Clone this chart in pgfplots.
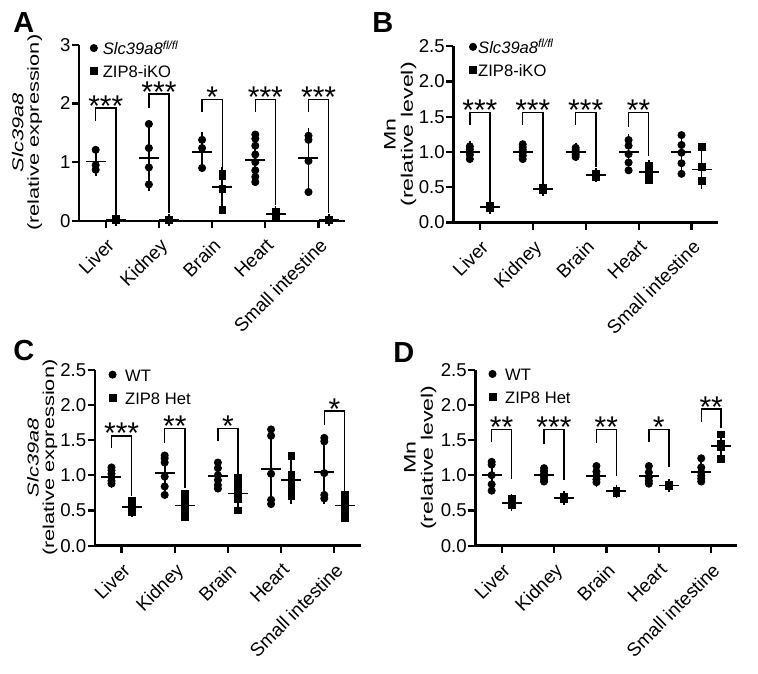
\documentclass[border=0pt]{standalone}
\usepackage{fontspec}
\setmainfont{Liberation Sans}
\usepackage{graphicx}
\usepackage{pgfplots}
\pgfplotsset{compat=1.18}

\pgfplotsset{
  panel/.style={
    scale only axis, height=88pt,
    xmin=-0.5, xmax=4.5, ymin=0,
    axis x line*=bottom, axis y line*=left,
    axis line style={line width=1.2pt, -},
    tick style={line width=1.1pt, black},
    major tick length=3.6pt, tick align=outside,
    xtick={0,1,2,3,4},
    xticklabels={Liver,Kidney,Brain,Heart,Small intestine},
    xticklabel style={rotate=45, anchor=north east, font=\fontsize{9.4}{10}\selectfont, inner sep=3.1pt},
    yticklabel style={font=\fontsize{9.3}{10}\selectfont, inner xsep=0.6pt},
    clip=false,
    legend cell align=left,
    legend style={draw=none, fill=none, inner sep=0pt, anchor=north west,
      font=\fontsize{8.3}{9}\selectfont, row sep=3.5pt,
      nodes={inner xsep=0pt, inner ysep=0pt, text height=6.5pt, text depth=1.5pt}},
    legend image code/.code={\draw[#1] plot coordinates {(0pt,0.8pt)};},
    ylabel style={anchor=south, align=center, inner sep=0pt},
  },
  lwt/.style={only marks, mark=*, mark size=1.8pt, black},
  lko/.style={only marks, mark=square*, mark size=1.7pt, black},
  wt/.style={only marks, mark=*, mark size=1.8pt, black, forget plot},
  ko/.style={only marks, mark=square*, mark size=1.7pt, black, forget plot},
  msd/.style={black, forget plot, only marks, mark=-, mark size=5pt,
     mark options={line width=0.9pt},
     error bars/.cd, y dir=both, y explicit, error mark=-,
     error mark options={line width=0.85pt, mark size=2.9pt},
     error bar style={line width=0.85pt}},
  brk/.style={black, line width=0.75pt, sharp plot, no marks, forget plot},
}
\tikzset{star/.style={font=\fontsize{15}{15}\selectfont, anchor=base, inner sep=0pt, yshift=-4.1pt}}

% #1 xL, #2 xR, #3 xc, #4 left leg bottom, #5 top, #6 right leg bottom, #7 stars
\newcommand{\brk}[7]{\addplot[brk] coordinates {(#1,#4) (#1,#5) (#2,#5) (#2,#6)};
  \node[star] at (axis cs:#3,#5) {#7};}

\begin{document}
\begin{tikzpicture}
\useasboundingbox (0,0) rectangle (379pt,-336.5pt);

% ---------------- Panel A ----------------
\begin{axis}[panel, width=133pt, at={(39.6pt,-110.4pt)}, anchor=south west,
  ymax=3, ytick={0,1,2,3}, yticklabels={0,1,2,3},
  ylabel={\scalebox{1.38}[1]{\itshape Slc39a8}\\\scalebox{1.38}[1]{(relative expression)}},
  ylabel style={at={(axis description cs:-0.138,0.5)}, font=\fontsize{7.9}{7.7}\selectfont},
  legend style={at={(axis description cs:0.04,1.02)}, /tikz/every odd column/.append style={column sep=2.7pt}}]
\addlegendimage{lwt}\addlegendentry{\textit{Slc39a8}\textsuperscript{\textit{fl/fl}}}
\addlegendimage{lko}\addlegendentry{ZIP8-iKO}
\addplot[wt] coordinates {(-0.19,1.21)(-0.19,0.95)(-0.19,0.87)};
\addplot[ko] coordinates {(0.19,0.03)(0.19,0.02)(0.19,0.01)};
\addplot[wt] coordinates {(0.81,1.65)(0.81,1.24)(0.81,0.91)(0.81,0.62)};
\addplot[ko] coordinates {(1.19,0.02)(1.19,0.01)(1.19,0.02)(1.19,0.01)};
\addplot[wt] coordinates {(1.81,1.38)(1.81,1.24)(1.81,0.90)};
\addplot[ko] coordinates {(2.19,0.80)(2.19,0.76)(2.19,0.55)(2.19,0.19)};
\addplot[wt] coordinates {(2.81,1.47)(2.81,1.40)(2.81,1.28)(2.81,1.13)(2.81,1.00)(2.81,0.86)(2.81,0.75)(2.81,0.66)};
\addplot[ko] coordinates {(3.19,0.15)(3.19,0.12)(3.19,0.10)(3.19,0.08)};
\addplot[wt] coordinates {(3.81,1.45)(3.81,1.38)(3.81,1.02)(3.81,0.49)};
\addplot[ko] coordinates {(4.19,0.02)(4.19,0.01)(4.19,0.02)};
\addplot[msd] coordinates {(-0.19,1.01)+-(0,0.14) (0.19,0.02)+-(0,0.01)
  (0.81,1.07)+-(0,0.46) (1.19,0.015)+-(0,0.005) (1.81,1.17)+-(0,0.24) (2.19,0.58)+-(0,0.24)
  (2.81,1.03)+-(0,0.30) (3.19,0.11)+-(0,0.04) (3.81,1.07)+-(0,0.42) (4.19,0.015)+-(0,0.005)};
\brk{-0.19}{0.19}{0}{1.70}{1.92}{0.14}{***}
\brk{0.81}{1.19}{1}{1.92}{2.16}{0.14}{***}
\brk{1.81}{2.19}{2}{1.85}{2.07}{0.86}{*}
\brk{2.81}{3.19}{3}{1.85}{2.07}{0.27}{***}
\brk{3.81}{4.19}{4}{1.85}{2.07}{0.14}{***}
\end{axis}

% ---------------- Panel B ----------------
\begin{axis}[panel, width=132.3pt, at={(226.7pt,-111.2pt)}, anchor=south west,
  ymax=2.5, ytick={0,0.5,1,1.5,2,2.5}, yticklabels={0.0,0.5,1.0,1.5,2.0,2.5},
  ylabel={\scalebox{1.4}[1]{Mn}\\\scalebox{1.4}[1]{(relative level)}},
  ylabel style={at={(axis description cs:-0.139,0.5)}, font=\fontsize{8.3}{8.6}\selectfont},
  legend style={at={(axis description cs:0.059,1.036)}, /tikz/every odd column/.append style={column sep=0.8pt}}]
\addlegendimage{lwt}\addlegendentry{\textit{Slc39a8}\textsuperscript{\textit{fl/fl}}}
\addlegendimage{lko}\addlegendentry{ZIP8-iKO}
\addplot[wt] coordinates {(-0.19,1.08)(-0.19,1.04)(-0.19,1.00)(-0.19,0.96)(-0.19,0.90)};
\addplot[ko] coordinates {(0.19,0.24)(0.19,0.23)(0.19,0.22)(0.19,0.20)};
\addplot[wt] coordinates {(0.81,1.11)(0.81,1.07)(0.81,1.03)(0.81,0.99)(0.81,0.95)(0.81,0.90)};
\addplot[ko] coordinates {(1.19,0.49)(1.19,0.48)(1.19,0.47)(1.19,0.46)};
\addplot[wt] coordinates {(1.81,1.06)(1.81,1.03)(1.81,0.99)(1.81,0.96)(1.81,0.93)};
\addplot[ko] coordinates {(2.19,0.69)(2.19,0.68)(2.19,0.67)(2.19,0.65)};
\addplot[wt] coordinates {(2.81,1.17)(2.81,1.09)(2.81,0.97)(2.81,0.85)(2.81,0.74)};
\addplot[ko] coordinates {(3.19,0.80)(3.19,0.75)(3.19,0.70)(3.19,0.64)(3.19,0.60)};
\addplot[wt] coordinates {(3.81,1.24)(3.81,1.10)(3.81,0.99)(3.81,0.84)(3.81,0.69)};
\addplot[ko] coordinates {(4.19,1.07)(4.19,0.79)(4.19,0.59)};
\addplot[msd] coordinates {(-0.19,1.00)+-(0,0.07) (0.19,0.22)+-(0,0.02)
  (0.81,1.00)+-(0,0.07) (1.19,0.475)+-(0,0.015) (1.81,1.00)+-(0,0.05) (2.19,0.67)+-(0,0.02)
  (2.81,1.00)+-(0,0.17) (3.19,0.72)+-(0,0.08) (3.81,1.00)+-(0,0.20) (4.19,0.75)+-(0,0.19)};
\brk{-0.19}{0.19}{0}{1.38}{1.56}{0.32}{***}
\brk{0.81}{1.19}{1}{1.38}{1.56}{0.58}{***}
\brk{1.81}{2.19}{2}{1.38}{1.56}{0.78}{***}
\brk{2.81}{3.19}{3}{1.36}{1.56}{0.94}{**}
\end{axis}

% ---------------- Panel C ----------------
\begin{axis}[panel, width=133pt, at={(47.5pt,-272.8pt)}, anchor=south west,
  ymax=2.5, ytick={0,0.5,1,1.5,2,2.5}, yticklabels={0.0,0.5,1.0,1.5,2.0,2.5},
  ylabel={\scalebox{1.38}[1]{\itshape Slc39a8}\\\scalebox{1.38}[1]{(relative expression)}},
  ylabel style={at={(axis description cs:-0.14,0.5)}, font=\fontsize{7.9}{7.7}\selectfont},
  legend style={at={(axis description cs:0.051,1.01)}, /tikz/every odd column/.append style={column sep=4.5pt}}]
\addlegendimage{lwt}\addlegendentry{WT}
\addlegendimage{lko}\addlegendentry{ZIP8 Het}
\addplot[wt] coordinates {(-0.19,1.11)(-0.19,1.07)(-0.19,1.02)(-0.19,0.97)(-0.19,0.92)(-0.19,0.88)};
\addplot[ko] coordinates {(0.19,0.63)(0.19,0.59)(0.19,0.55)(0.19,0.52)(0.19,0.48)};
\addplot[wt] coordinates {(0.81,1.28)(0.81,1.24)(0.81,1.18)(0.81,0.98)(0.81,0.84)(0.81,0.72)};
\addplot[ko] coordinates {(1.19,0.74)(1.19,0.66)(1.19,0.58)(1.19,0.52)(1.19,0.46)(1.19,0.41)};
\addplot[wt] coordinates {(1.81,1.18)(1.81,1.10)(1.81,1.00)(1.81,0.93)(1.81,0.86)(1.81,0.81)};
\addplot[ko] coordinates {(2.19,0.96)(2.19,0.85)(2.19,0.76)(2.19,0.66)(2.19,0.50)};
\addplot[wt] coordinates {(2.81,1.65)(2.81,1.56)(2.81,1.02)(2.81,0.65)(2.81,0.59)};
\addplot[ko] coordinates {(3.19,1.27)(3.19,1.00)(3.19,0.93)(3.19,0.82)(3.19,0.71)};
\addplot[wt] coordinates {(3.81,1.53)(3.81,1.48)(3.81,1.03)(3.81,0.72)(3.81,0.67)};
\addplot[ko] coordinates {(4.19,0.72)(4.19,0.63)(4.19,0.56)(4.19,0.50)(4.19,0.44)(4.19,0.39)};
\addplot[msd] coordinates {(-0.19,0.98)+-(0,0.08) (0.19,0.55)+-(0,0.06)
  (0.81,1.03)+-(0,0.21) (1.19,0.57)+-(0,0.13) (1.81,0.99)+-(0,0.12) (2.19,0.74)+-(0,0.16)
  (2.81,1.09)+-(0,0.48) (3.19,0.93)+-(0,0.26) (3.81,1.05)+-(0,0.37) (4.19,0.57)+-(0,0.12)};
\brk{-0.19}{0.19}{0}{1.38}{1.56}{0.70}{***}
\brk{0.81}{1.19}{1}{1.46}{1.66}{0.82}{**}
\brk{1.81}{2.19}{2}{1.48}{1.66}{1.00}{*}
\brk{3.81}{4.19}{4}{1.72}{1.91}{0.74}{*}
\end{axis}

% ---------------- Panel D ----------------
\begin{axis}[panel, width=131pt, at={(237.7pt,-272.8pt)}, anchor=south west,
  ymax=2.5, ytick={0,0.5,1,1.5,2,2.5}, yticklabels={0.0,0.5,1.0,1.5,2.0,2.5},
  ylabel={\scalebox{1.4}[1]{Mn}\\\scalebox{1.4}[1]{(relative level)}},
  ylabel style={at={(axis description cs:-0.148,0.5)}, font=\fontsize{8.3}{8.6}\selectfont},
  legend style={at={(axis description cs:0.05,1.014)}, /tikz/every odd column/.append style={column sep=4.5pt}}]
\addlegendimage{lwt}\addlegendentry{WT}
\addlegendimage{lko}\addlegendentry{ZIP8 Het}
\addplot[wt] coordinates {(-0.19,1.19)(-0.19,1.15)(-0.19,1.00)(-0.19,0.87)(-0.19,0.78)};
\addplot[ko] coordinates {(0.19,0.67)(0.19,0.63)(0.19,0.60)(0.19,0.57)};
\addplot[wt] coordinates {(0.81,1.10)(0.81,1.06)(0.81,1.02)(0.81,0.98)(0.81,0.94)(0.81,0.91)};
\addplot[ko] coordinates {(1.19,0.70)(1.19,0.68)(1.19,0.66)};
\addplot[wt] coordinates {(1.81,1.13)(1.81,1.05)(1.81,0.99)(1.81,0.94)(1.81,0.90)};
\addplot[ko] coordinates {(2.19,0.78)(2.19,0.76)(2.19,0.75)};
\addplot[wt] coordinates {(2.81,1.13)(2.81,1.04)(2.81,0.97)(2.81,0.92)(2.81,0.88)};
\addplot[ko] coordinates {(3.19,0.87)(3.19,0.85)(3.19,0.84)};
\addplot[wt] coordinates {(3.81,1.24)(3.81,1.11)(3.81,1.04)(3.81,0.99)(3.81,0.95)(3.81,0.91)};
\addplot[ko] coordinates {(4.19,1.58)(4.19,1.45)(4.19,1.40)(4.19,1.23)};
\addplot[msd] coordinates {(-0.19,1.00)+-(0,0.13) (0.19,0.61)+-(0,0.04)
  (0.81,1.00)+-(0,0.06) (1.19,0.68)+-(0,0.02) (1.81,0.99)+-(0,0.08) (2.19,0.77)+-(0,0.015)
  (2.81,0.99)+-(0,0.08) (3.19,0.855)+-(0,0.015) (3.81,1.05)+-(0,0.11) (4.19,1.41)+-(0,0.09)};
\brk{-0.19}{0.19}{0}{1.47}{1.65}{0.94}{**}
\brk{0.81}{1.19}{1}{1.44}{1.65}{0.93}{***}
\brk{1.81}{2.19}{2}{1.46}{1.65}{0.99}{**}
\brk{2.81}{3.19}{3}{1.47}{1.65}{1.11}{*}
\brk{3.81}{4.19}{4}{1.75}{1.94}{1.67}{**}
\end{axis}

% panel letters
\node[anchor=north west, inner sep=0pt, font=\fontsize{14.5}{15}\selectfont\bfseries] at (6.5pt,-6.3pt) {A};
\node[anchor=north west, inner sep=0pt, font=\fontsize{14.5}{15}\selectfont\bfseries] at (186pt,-6.3pt) {B};
\node[anchor=north west, inner sep=0pt, font=\fontsize{14.5}{15}\selectfont\bfseries] at (6.5pt,-170pt) {C};
\node[anchor=north west, inner sep=0pt, font=\fontsize{14.5}{15}\selectfont\bfseries] at (196.5pt,-171pt) {D};
\end{tikzpicture}
\end{document}
